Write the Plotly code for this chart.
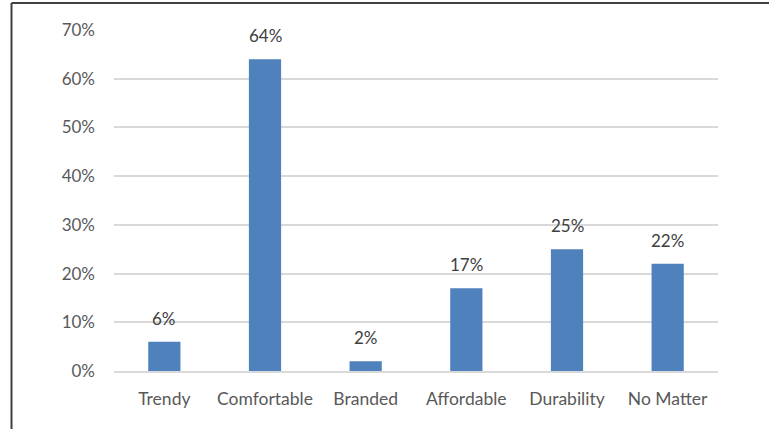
import plotly.graph_objects as go

categories = ["Trendy", "Comfortable", "Branded", "Affordable", "Durability", "No Matter"]
shares = [6, 64, 2, 17, 25, 22]
y_ticks = [0, 10, 20, 30, 40, 50, 60, 70]
y_tick_labels = [f"{v}%" for v in y_ticks]

W, H = 769, 429
L, R, T, B = 114, 51, 29.5, 58
pw, ph = W - L - R, H - T - B
FONT = "Lato, Open Sans, sans-serif"

fig = go.Figure(
    go.Bar(
        x=categories,
        y=shares,
        marker=dict(color="#4f81bd", line=dict(width=0)),
        width=0.32,
        cliponaxis=False,
    )
)

# Value labels above each bar
for c, v in zip(categories, shares):
    fig.add_annotation(x=c, y=v, text=f"{v}%", showarrow=False, yanchor="bottom",
                       yshift=11, font=dict(family=FONT, size=17, color="#404040"))

fig.update_layout(
    width=W,
    height=H,
    margin=dict(l=L, r=R, t=T, b=B),
    plot_bgcolor="white",
    paper_bgcolor="white",
    font=dict(family=FONT, color="#595959", size=17),
    showlegend=False,
    xaxis=dict(
        showgrid=False,
        showline=True,
        linecolor="#d9d9d9",
        linewidth=1.5,
        ticks="",
        ticklabelstandoff=11,
        tickfont=dict(family=FONT, size=17.5, color="#595959"),
    ),
    yaxis=dict(
        range=[0, 70],
        tickvals=y_ticks,
        ticktext=y_tick_labels,
        showgrid=True,
        gridcolor="#d9d9d9",
        gridwidth=1.5,
        zeroline=False,
        showline=False,
        ticks="",
        ticklabelstandoff=18,
        tickfont=dict(family=FONT, size=17, color="#595959"),
    ),
)

# Frame around the chart: left and top edges
fx = (11.5 - L) / pw
fy = 1 + (T - 2.5) / ph
fig.add_shape(type="line", xref="paper", yref="paper", x0=fx, x1=fx, y0=fy, y1=-(B + 5) / ph,
              line=dict(color="#404040", width=2))
fig.add_shape(type="line", xref="paper", yref="paper", x0=fx, x1=(W - L + 5) / pw, y0=fy, y1=fy,
              line=dict(color="#404040", width=2))

fig.write_html("out.html")
